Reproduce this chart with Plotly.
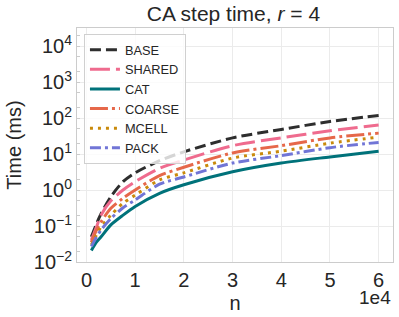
import plotly.graph_objects as go

n = [1000, 2000, 3000, 5000, 7500, 10000, 15000, 20000, 30000, 40000, 50000, 60000]
base = [0.05, 0.11, 0.22, 0.65, 1.7, 3.0, 6.5, 11.5, 28, 48, 80, 118]
shared = [0.041, 0.09, 0.2, 0.5, 1.0, 1.7, 4.0, 6.8, 17, 28, 44, 64]
cat = [0.021, 0.035, 0.05, 0.107, 0.2, 0.35, 0.81, 1.4, 3.2, 5.6, 8.3, 12]
coarse = [0.035, 0.075, 0.13, 0.31, 0.59, 1.0, 2.5, 4.3, 10.7, 17, 28, 38]
mcell = [0.030, 0.055, 0.095, 0.20, 0.43, 0.72, 1.9, 3.0, 7.7, 12, 20, 29.5]
pack = [0.027, 0.048, 0.078, 0.16, 0.32, 0.53, 1.45, 2.3, 5.6, 9, 15, 21]

series = [
    ("BASE", base, "#2e2e2e", "11px,5px"),
    ("SHARED", shared, "#ef6b8e", "20px,6px"),
    ("CAT", cat, "#00727a", "solid"),
    ("COARSE", coarse, "#e6684a", "18px,4px,3px,4px"),
    ("MCELL", mcell, "#c98a0b", "3px,5px"),
    ("PACK", pack, "#7175d6", "11px,4px,3px,4px"),
]

ytick_vals = [0.01, 0.1, 1, 10, 100, 1000, 10000]
ytick_text = ["10<sup>−2</sup>", "10<sup>−1</sup>", "10<sup>0</sup>", "10<sup>1</sup>",
              "10<sup>2</sup>", "10<sup>3</sup>", "10<sup>4</sup>"]
xtick_vals = [0, 10000, 20000, 30000, 40000, 50000, 60000]
xtick_text = ["0", "1", "2", "3", "4", "5", "6"]

FONT = "Liberation Sans, Arial, sans-serif"
TXT = "#262626"
fig = go.Figure()
for name, vals, color, dash in series:
    fig.add_trace(go.Scatter(x=n, y=vals, name=name, mode="lines",
                             line=dict(color=color, width=3, dash=dash, shape="spline", smoothing=0.8)))

fig.update_layout(
    width=399, height=317,
    margin=dict(l=77, r=6, t=28, b=55),
    paper_bgcolor="white", plot_bgcolor="white",
    font=dict(family=FONT, color=TXT, size=20),
    title=dict(text="CA step time, <i>r</i> = 4", xref="paper", x=0.495, xanchor="center",
               yref="container", y=1 - 14 / 317, yanchor="middle",
               font=dict(size=21, family=FONT, color=TXT)),
    showlegend=True,
    legend=dict(x=0.022, y=0.975, xanchor="left", yanchor="top",
                bgcolor="rgba(255,255,255,0.8)", bordercolor="#d0d0d0", borderwidth=1,
                font=dict(size=12.8, family=FONT, color=TXT), tracegroupgap=0),
)
fig.update_xaxes(range=[-1950, 62950], tickvals=xtick_vals, ticktext=xtick_text, automargin=False,
                 showgrid=True, gridcolor="#ebebeb", gridwidth=1, zeroline=False,
                 showline=True, linecolor="#cccccc", linewidth=1, mirror=True,
                 tickfont=dict(size=20), title=dict(text="n", standoff=5, font=dict(size=20)))
fig.update_yaxes(type="log", range=[-2, 4.5], tickvals=ytick_vals, ticktext=ytick_text, automargin=False,
                 showgrid=True, gridcolor="#ebebeb", gridwidth=1, zeroline=False,
                 showline=True, linecolor="#cccccc", linewidth=1, mirror=True,
                 tickfont=dict(size=20), title=dict(text="Time (ms)", standoff=6, font=dict(size=20)),
                 minor=dict(ticks="inside", ticklen=3, tickcolor="#cccccc", showgrid=False))
fig.add_annotation(text="1e4", xref="paper", yref="paper", x=1.0, y=-(297 - 262) / 234, xanchor="right",
                   yanchor="middle", showarrow=False, font=dict(size=19, family=FONT, color=TXT))
fig.write_html("out.html", config={"displayModeBar": False},
               post_script="document.body.style.margin='0';document.body.style.padding='0';")
